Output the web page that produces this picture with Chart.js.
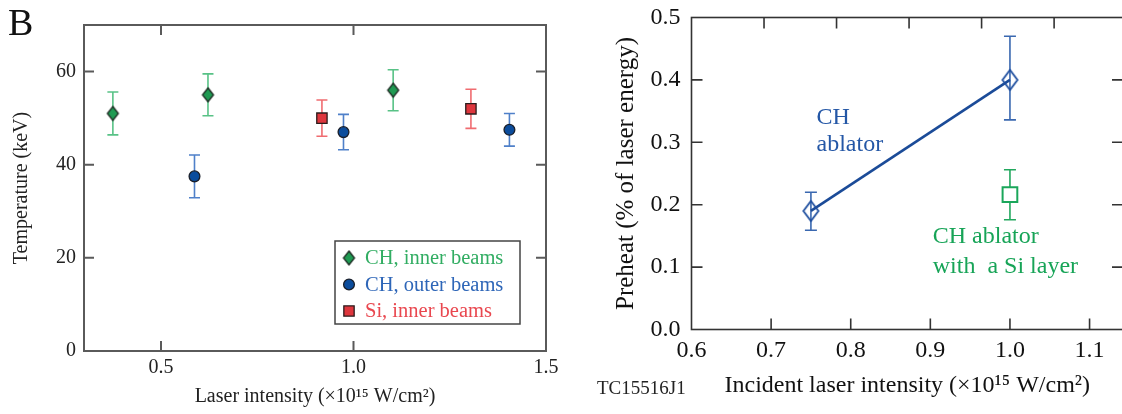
<!DOCTYPE html>
<html><head><meta charset="utf-8">
<script src="https://cdn.jsdelivr.net/npm/chart.js@4.4.0/dist/chart.umd.min.js"></script>
<style>
html,body{margin:0;padding:0;background:#fff;overflow:hidden;width:1122px;height:414px}
#c1{position:absolute;left:0;top:0}
#c2{position:absolute;left:560px;top:0}
</style></head><body>
<canvas id="c1" width="560" height="414"></canvas>
<canvas id="c2" width="566" height="414"></canvas>
<script>
// ---------- Left panel (B): temperature vs laser intensity ----------
const seriesNames = ['CH, inner beams', 'CH, outer beams', 'Si, inner beams'];
const chInnerIntensity = [0.375, 0.622, 1.103];
const chInnerTemp = [51.0, 55.0, 56.0];
const chInnerErr = [4.6, 4.5, 4.4];
const chOuterIntensity = [0.587, 0.974, 1.405];
const chOuterTemp = [37.5, 47.0, 47.5];
const chOuterErr = [4.6, 3.8, 3.5];
const siInnerIntensity = [0.918, 1.305];
const siInnerTemp = [50.0, 52.0];
const siInnerErr = [3.9, 4.2];
const leftXTicks = [0.5, 1.0, 1.5];
const leftYTicks = [0, 20, 40, 60];

// ---------- Right panel: preheat vs incident intensity ----------
const rightSeriesNames = ['CH ablator', 'CH ablator with a Si layer'];
const chAblatorIntensity = [0.75, 1.0];
const chAblatorPreheat = [0.19, 0.40];
const chAblatorErrLow = [0.031, 0.064];
const chAblatorErrHigh = [0.030, 0.070];
const siLayerIntensity = [1.0];
const siLayerPreheat = [0.216];
const siLayerErrLow = [0.040];
const siLayerErrHigh = [0.040];
const rightXTicks = [0.6, 0.7, 0.8, 0.9, 1.0, 1.1];
const rightYTicks = [0.0, 0.1, 0.2, 0.3, 0.4, 0.5];
const rightTopTicks = [0.7, 0.8, 0.9, 1.0, 1.1];

const F = '"Liberation Serif", "Times New Roman", serif';
Chart.defaults.font.family = F;

function toPoints(xs, ys) { return xs.map((x, i) => ({x: x, y: ys[i]})); }

function diamondCanvas(w, h, fill, stroke, lw) {
  const pad = Math.ceil(lw) + 1;
  const c = document.createElement('canvas');
  c.width = w + 2 * pad; c.height = h + 2 * pad;
  const g = c.getContext('2d');
  g.beginPath();
  g.moveTo(c.width / 2, pad);
  g.lineTo(c.width - pad, c.height / 2);
  g.lineTo(c.width / 2, c.height - pad);
  g.lineTo(pad, c.height / 2);
  g.closePath();
  if (fill) { g.fillStyle = fill; g.fill(); }
  g.lineWidth = lw; g.strokeStyle = stroke; g.stroke();
  return c;
}

const errorBarPlugin = {
  id: 'errorBars',
  beforeDatasetsDraw(chart) {
    const ctx = chart.ctx;
    chart.data.datasets.forEach((ds, i) => {
      if (!ds.errLow) return;
      const meta = chart.getDatasetMeta(i);
      const xs = chart.scales[meta.xAxisID], ys = chart.scales[meta.yAxisID];
      ctx.save();
      ctx.strokeStyle = ds.errColor; ctx.lineWidth = ds.errWidth;
      ds.data.forEach((p, j) => {
        const x = xs.getPixelForValue(p.x);
        const y1 = ys.getPixelForValue(p.y - ds.errLow[j]);
        const y2 = ys.getPixelForValue(p.y + ds.errHigh[j]);
        const cw = ds.errCap / 2;
        ctx.beginPath();
        ctx.moveTo(x, y1); ctx.lineTo(x, y2);
        ctx.moveTo(x - cw, y1); ctx.lineTo(x + cw, y1);
        ctx.moveTo(x - cw, y2); ctx.lineTo(x + cw, y2);
        ctx.stroke();
      });
      ctx.restore();
    });
  }
};

const framePlugin = {
  id: 'frame',
  beforeDatasetsDraw(chart, args, o) {
    const ctx = chart.ctx, a = chart.chartArea, L = o.tickLen;
    ctx.save();
    ctx.strokeStyle = o.color; ctx.lineWidth = o.width;
    ctx.strokeRect(a.left, a.top, a.right - a.left, a.bottom - a.top);
    ctx.beginPath();
    o.sides.forEach(s => {
      const sc = chart.scales[s.scale];
      s.values.forEach(v => {
        const p = sc.getPixelForValue(v);
        if (s.side === 'bottom') { ctx.moveTo(p, a.bottom); ctx.lineTo(p, a.bottom - L); }
        if (s.side === 'top') { ctx.moveTo(p, a.top); ctx.lineTo(p, a.top + L); }
        if (s.side === 'left') { ctx.moveTo(a.left, p); ctx.lineTo(a.left + L, p); }
        if (s.side === 'right') { ctx.moveTo(a.right, p); ctx.lineTo(a.right - L, p); }
      });
    });
    ctx.stroke();
    ctx.restore();
  }
};

const boxLegendPlugin = {
  id: 'boxLegend',
  afterDatasetsDraw(chart, args, o) {
    if (!o.display) return;
    const ctx = chart.ctx;
    ctx.save();
    ctx.fillStyle = '#fff';
    ctx.fillRect(o.x, o.y, o.w, o.h);
    ctx.strokeStyle = o.border; ctx.lineWidth = o.borderWidth;
    ctx.strokeRect(o.x, o.y, o.w, o.h);
    ctx.font = o.fontSize + 'px ' + F;
    ctx.textBaseline = 'middle';
    ctx.textAlign = 'left';
    chart.data.datasets.forEach((ds, i) => {
      const y = o.y + o.firstRow + i * o.rowGap;
      ctx.fillStyle = ds.backgroundColor; ctx.strokeStyle = ds.borderColor; ctx.lineWidth = ds.borderWidth;
      Chart.helpers.drawPoint(ctx, {pointStyle: ds.pointStyle, radius: ds.pointRadius, rotation: 0, borderWidth: ds.borderWidth}, o.x + o.markerX, y);
      ctx.fillStyle = ds.legendColor;
      ctx.fillText(ds.label, o.x + o.textX, y + 1);
    });
    ctx.restore();
  }
};

const textPlugin = {
  id: 'labels',
  afterDraw(chart, args, o) {
    const ctx = chart.ctx;
    ctx.save();
    (o.items || []).forEach(t => {
      let x = t.px, y = t.py;
      if (t.data) { x = chart.scales[t.xs].getPixelForValue(t.data[0]); y = chart.scales[t.ys].getPixelForValue(t.data[1]); }
      ctx.font = t.size + 'px ' + F;
      ctx.fillStyle = t.color;
      ctx.textAlign = 'left';
      ctx.textBaseline = 'alphabetic';
      ctx.fillText(t.text, x, y);
    });
    ctx.restore();
  }
};

function fixedTicks(arr) { return s => { s.ticks = arr.map(v => ({value: v})); }; }
function inner(arr, lo, hi) { return arr.filter(v => v > lo + 1e-9 && v < hi - 1e-9); }
function fitTo(prop, val) {
  return s => { s[prop] = val; s.paddingTop = 0; s.paddingBottom = 0; s.paddingLeft = 0; s.paddingRight = 0; };
}

// ----- Left chart -----
const LXMIN = 0.3, LXMAX = 1.5, LYMIN = 0, LYMAX = 70;
const greenDiamond = diamondCanvas(11, 14, '#1f9a52', '#1d2a22', 1.3);
new Chart(document.getElementById('c1'), {
  type: 'scatter',
  data: {datasets: [
    {label: seriesNames[0], data: toPoints(chInnerIntensity, chInnerTemp), errLow: chInnerErr, errHigh: chInnerErr,
     errColor: '#58c286', errWidth: 1.6, errCap: 11, pointStyle: greenDiamond, pointRadius: 6,
     backgroundColor: '#1f9a52', borderColor: '#1d2a22', borderWidth: 1.3, legendColor: '#31ad62'},
    {label: seriesNames[1], data: toPoints(chOuterIntensity, chOuterTemp), errLow: chOuterErr, errHigh: chOuterErr,
     errColor: '#4f80c9', errWidth: 1.6, errCap: 11, pointStyle: 'circle', pointRadius: 5.4,
     backgroundColor: '#0b4c9c', borderColor: '#1a1f2a', borderWidth: 1.3, legendColor: '#2e66b8'},
    {label: seriesNames[2], data: toPoints(siInnerIntensity, siInnerTemp), errLow: siInnerErr, errHigh: siInnerErr,
     errColor: '#f06c70', errWidth: 1.6, errCap: 11, pointStyle: 'rect', pointRadius: 7.3,
     backgroundColor: '#de363d', borderColor: '#2a1c1c', borderWidth: 1.3, legendColor: '#e9474f'}
  ]},
  options: {
    responsive: false, animation: false, devicePixelRatio: 1,
    layout: {autoPadding: false, padding: {top: 25, right: 14, left: 0, bottom: 0}},
    plugins: {
      legend: {display: false}, tooltip: {enabled: false},
      frame: {color: '#5a5a5a', width: 2, tickLen: 10, sides: [
        {side: 'bottom', scale: 'x', values: inner(leftXTicks, LXMIN, LXMAX)},
        {side: 'top', scale: 'x', values: inner(leftXTicks, LXMIN, LXMAX)},
        {side: 'left', scale: 'y', values: inner(leftYTicks, LYMIN, LYMAX)},
        {side: 'right', scale: 'y', values: inner(leftYTicks, LYMIN, LYMAX)}]},
      boxLegend: {display: true, x: 335, y: 241, w: 185, h: 83, border: '#444', borderWidth: 1.5,
        fontSize: 20.5, firstRow: 17, rowGap: 26.5, markerX: 14, textX: 30},
      labels: {items: [{text: 'B', px: 8, py: 35, size: 38, color: '#111'}]}
    },
    scales: {
      x: {type: 'linear', position: 'bottom', min: LXMIN, max: LXMAX,
        afterBuildTicks: fixedTicks(leftXTicks), afterFit: fitTo('height', 63),
        grid: {display: false, drawTicks: false}, border: {display: false},
        ticks: {padding: 5, color: '#222', font: {size: 20}, maxRotation: 0, autoSkip: false, callback: v => v.toFixed(1)},
        title: {display: true, text: 'Laser intensity (×10¹⁵ W/cm²)', color: '#222', font: {size: 20}, padding: {top: 0, bottom: 5}}},
      y: {type: 'linear', position: 'left', min: LYMIN, max: LYMAX,
        afterBuildTicks: fixedTicks(leftYTicks), afterFit: fitTo('width', 84),
        grid: {display: false, drawTicks: false}, border: {display: false},
        ticks: {padding: 8, color: '#222', font: {size: 20}, callback: v => String(v)},
        title: {display: true, text: 'Temperature (keV)', color: '#222', font: {size: 20}, padding: {top: 10, bottom: 0}}}
    }
  },
  plugins: [errorBarPlugin, framePlugin, boxLegendPlugin, textPlugin]
});

// ----- Right chart -----
const RXMIN = 0.6, RXMAX = 1.142, RYMIN = 0, RYMAX = 0.5;
const blueHollowDiamond = diamondCanvas(15, 20, null, '#1f4f9f', 1.8);
new Chart(document.getElementById('c2'), {
  type: 'scatter',
  data: {datasets: [
    {label: rightSeriesNames[0], data: toPoints(chAblatorIntensity, chAblatorPreheat), showLine: true,
     errLow: chAblatorErrLow, errHigh: chAblatorErrHigh, errColor: '#3a68b0', errWidth: 1.6, errCap: 12,
     pointStyle: blueHollowDiamond, pointRadius: 8, borderColor: '#1b4b98', borderWidth: 2.6, backgroundColor: 'rgba(0,0,0,0)'},
    {label: rightSeriesNames[1], data: toPoints(siLayerIntensity, siLayerPreheat), showLine: false,
     errLow: siLayerErrLow, errHigh: siLayerErrHigh, errColor: '#22a85e', errWidth: 1.6, errCap: 12,
     pointStyle: 'rect', pointRadius: 10.4, borderColor: '#1aa65a', borderWidth: 2, backgroundColor: '#ffffff'}
  ]},
  options: {
    responsive: false, animation: false, devicePixelRatio: 1,
    layout: {autoPadding: false, padding: {top: 17.5, right: 3, left: 0, bottom: 0}},
    plugins: {
      legend: {display: false}, tooltip: {enabled: false},
      frame: {color: '#333', width: 1.6, tickLen: 11, sides: [
        {side: 'bottom', scale: 'x', values: inner(rightXTicks, RXMIN, RXMAX)},
        {side: 'top', scale: 'x2', values: rightTopTicks},
        {side: 'left', scale: 'y', values: inner(rightYTicks, RYMIN, RYMAX)},
        {side: 'right', scale: 'y', values: inner(rightYTicks, RYMIN, RYMAX)}]},
      labels: {items: [
        {text: 'CH', data: [0.757, 0.330], xs: 'x', ys: 'y', size: 24, color: '#2457a6'},
        {text: 'ablator', data: [0.757, 0.2865], xs: 'x', ys: 'y', size: 24, color: '#2457a6'},
        {text: 'CH ablator', data: [0.903, 0.138], xs: 'x', ys: 'y', size: 24, color: '#17a457'},
        {text: 'with  a Si layer', data: [0.903, 0.090], xs: 'x', ys: 'y', size: 24, color: '#17a457'},
        {text: 'TC15516J1', px: 37, py: 394, size: 19, color: '#222'}
      ]}
    },
    scales: {
      x: {type: 'linear', position: 'bottom', min: RXMIN, max: RXMAX,
        afterBuildTicks: fixedTicks(rightXTicks), afterFit: fitTo('height', 84.5),
        grid: {display: false, drawTicks: false}, border: {display: false},
        ticks: {padding: 7, color: '#111', font: {size: 24}, maxRotation: 0, autoSkip: false, callback: v => v.toFixed(1)},
        title: {display: true, text: 'Incident laser intensity (×10¹⁵ W/cm²)', color: '#111', font: {size: 24}, padding: {top: 0, bottom: 14}}},
      x2: {type: 'linear', position: 'top', min: 0.6, max: 1.195,
        afterBuildTicks: fixedTicks(rightTopTicks), afterFit: fitTo('height', 0),
        grid: {display: false, drawTicks: false}, border: {display: false}, ticks: {display: false}},
      y: {type: 'linear', position: 'left', min: RYMIN, max: RYMAX,
        afterBuildTicks: fixedTicks(rightYTicks), afterFit: fitTo('width', 131.5),
        grid: {display: false, drawTicks: false}, border: {display: false},
        ticks: {padding: 11, color: '#111', font: {size: 24}, callback: v => v.toFixed(1)},
        title: {display: true, text: 'Preheat (% of laser energy)', color: '#111', font: {size: 25}, padding: {top: 51, bottom: 0}}}
    }
  },
  plugins: [errorBarPlugin, framePlugin, textPlugin]
});
</script>
</body></html>
